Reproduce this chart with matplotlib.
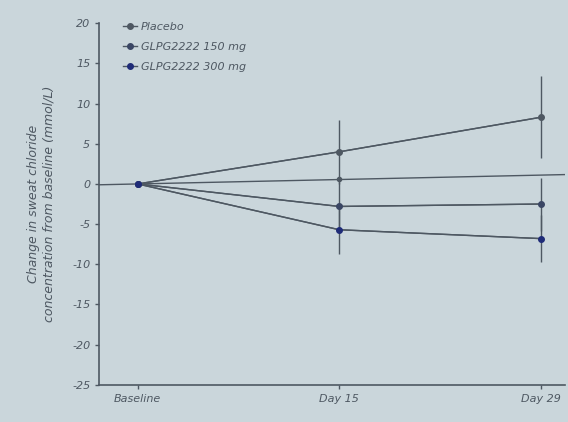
import numpy as np
import matplotlib.pyplot as plt

plt.rcParams['axes.unicode_minus'] = False

# Visits and mean change in sweat chloride (mmol/L)
visits = ['Baseline', 'Day 15', 'Day 29']
placebo = [0, 4.0, 8.3]
placebo_err = [0, 4.0, 5.1]
glpg_150 = [0, -2.8, -2.5]
glpg_150_err = [0, 3.0, 3.3]
glpg_300 = [0, -5.7, -6.8]
glpg_300_err = [0, 3.0, 2.9]
# extra trend line running through the chart
trend = [0, 0.6, 1.1]

bg = '#cad6db'
ink = '#4e5862'

fig = plt.figure(figsize=(5.68, 4.22), dpi=100)
fig.patch.set_facecolor(bg)
ax = fig.add_axes([0.175, 0.088, 0.82, 0.857])
ax.set_facecolor(bg)

x = np.arange(len(visits))

ax.axline((x[0], trend[0]), (x[2], trend[2]), color=ink, lw=1.0, zorder=2)
ax.plot(x[:2], trend[:2], 'o', color=ink, ms=3, zorder=3)

series = [
    ('Placebo', placebo, placebo_err, ink),
    ('GLPG2222 150 mg', glpg_150, glpg_150_err, '#3a4664'),
    ('GLPG2222 300 mg', glpg_300, glpg_300_err, '#1f2c78'),
]
for label, vals, err, col in series:
    ax.errorbar(x, vals, yerr=err, color=ink, lw=1.0, elinewidth=1.0,
                capsize=0, zorder=2)
    ax.plot(x, vals, '-o', color=ink, mfc=col, mec=col, ms=4, lw=1.0,
            label=label, zorder=3)

ax.set_xlim(-0.19, 2.12)
ax.set_ylim(-25, 20)
ax.set_yticks(np.arange(-25, 21, 5))
ax.set_xticks(x)
ax.set_xticklabels(visits)
ax.tick_params(colors=ink, labelsize=8, length=3, width=1)
for lab in ax.get_xticklabels() + ax.get_yticklabels():
    lab.set_fontstyle('italic')
    lab.set_color(ink)
for side in ['top', 'right']:
    ax.spines[side].set_visible(False)
for side in ['left', 'bottom']:
    ax.spines[side].set_color(ink)
    ax.spines[side].set_linewidth(1.2)

ax.set_ylabel('Change in sweat chloride\nconcentration from baseline (mmol/L)',
              fontsize=9, color=ink, style='italic', labelpad=12)

leg = ax.legend(loc='upper left', bbox_to_anchor=(0.03, 1.03), frameon=False,
                fontsize=8, handlelength=1.2, labelspacing=0.9,
                handletextpad=0.4)
for t in leg.get_texts():
    t.set_color(ink)
    t.set_fontstyle('italic')

fig.savefig('out.png', dpi=100, facecolor=bg)
